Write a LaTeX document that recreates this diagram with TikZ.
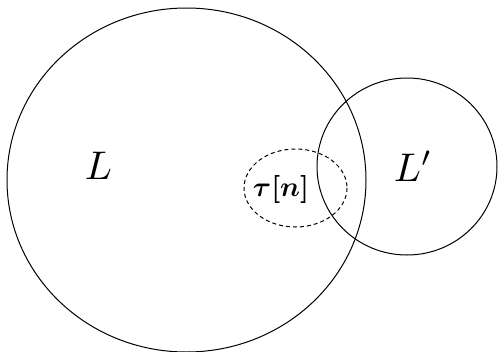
\documentclass[tikz,border=0pt]{standalone}
\usepackage{amsmath}
\usepackage{amssymb}
\usetikzlibrary{positioning}
\usetikzlibrary{calc}

\begin{document}
\begin{tikzpicture}[x=1pt, y=-1pt, line width=1pt, every node/.style={inner sep=0pt}]

        \useasboundingbox (0,0) rectangle (498,351);

        \def\bigrx{179.5} % Horizontal radius of the big set
        \def\bigry{172} % Vertical radius of the big set

        \coordinate (cL) at (186.5, 180);
        \coordinate (cLp) at (407, 166.5);
        \coordinate (ctau) at (295.5, 188);

        \draw (cL) ellipse ({\bigrx} and {\bigry});
        \draw (cLp) ellipse (90 and 88.5);
        \draw[dashed, dash pattern=on 4pt off 3pt] (ctau) ellipse (51.5 and 39);

        \node (L) at (98.5, 166) {\scalebox{4}{$L$}};
        \node (Lp) at (413, 166) {\scalebox{4}{$L'$}};
        \node (tau) at (281, 189) {\scalebox{2.8}{$\boldsymbol{\tau[n]}$}};

      \end{tikzpicture}
\end{document}
